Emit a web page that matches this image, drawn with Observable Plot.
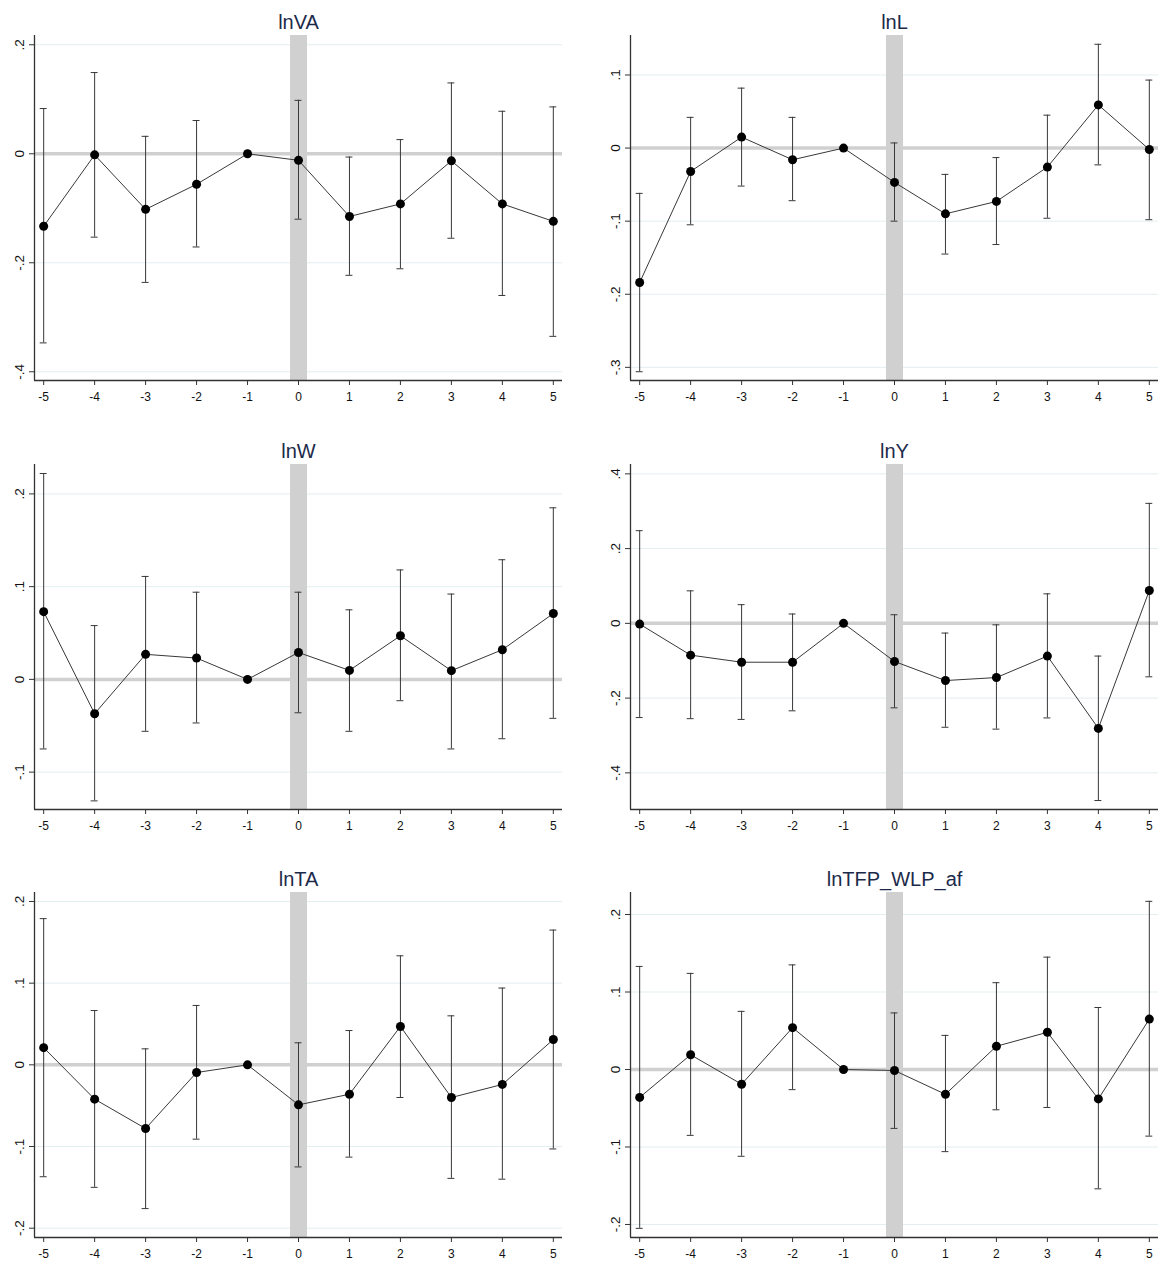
<!DOCTYPE html>
<html>
<head>
<meta charset="utf-8">
<script src="https://cdn.jsdelivr.net/npm/d3@7"></script>
<script src="https://cdn.jsdelivr.net/npm/@observablehq/plot@0.6"></script>
<style>
  body { margin: 0; background: #fff; }
  #wrap { position: relative; width: 1158px; height: 1262px; background: #fff; overflow: hidden; }
  .panel { position: absolute; }
  .panel g[aria-label="y-axis tick label"] { font-size: 13.5px; fill: #111; }
  .panel g[aria-label="x-axis tick label"] { font-size: 12px; fill: #111; }
</style>
</head>
<body>
<div id="wrap"></div>
<script>
// ---- data ----
const periods = [-5, -4, -3, -2, -1, 0, 1, 2, 3, 4, 5];
const eventPeriod = 0;
const titles = ["lnVA", "lnL", "lnW", "lnY", "lnTA", "lnTFP_WLP_af"];

const lnVA_coef = [-0.133, -0.002, -0.102, -0.056, 0, -0.012, -0.115, -0.092, -0.013, -0.092, -0.124];
const lnVA_lo   = [-0.347, -0.153, -0.236, -0.171, null, -0.120, -0.223, -0.211, -0.155, -0.260, -0.335];
const lnVA_hi   = [0.083, 0.149, 0.032, 0.061, null, 0.098, -0.006, 0.026, 0.130, 0.078, 0.086];

const lnL_coef = [-0.184, -0.032, 0.015, -0.016, 0, -0.047, -0.090, -0.073, -0.026, 0.059, -0.002];
const lnL_lo   = [-0.306, -0.105, -0.052, -0.072, null, -0.100, -0.145, -0.132, -0.096, -0.023, -0.098];
const lnL_hi   = [-0.062, 0.042, 0.082, 0.042, null, 0.007, -0.036, -0.013, 0.045, 0.142, 0.093];

const lnW_coef = [0.073, -0.037, 0.027, 0.023, 0, 0.029, 0.0097, 0.047, 0.0094, 0.032, 0.071];
const lnW_lo   = [-0.075, -0.131, -0.056, -0.047, null, -0.036, -0.056, -0.023, -0.075, -0.064, -0.042];
const lnW_hi   = [0.222, 0.058, 0.111, 0.094, null, 0.094, 0.075, 0.118, 0.092, 0.129, 0.185];

const lnY_coef = [-0.002, -0.085, -0.104, -0.104, 0, -0.102, -0.153, -0.145, -0.0875, -0.281, 0.088];
const lnY_lo   = [-0.252, -0.255, -0.257, -0.234, null, -0.226, -0.278, -0.283, -0.253, -0.474, -0.143];
const lnY_hi   = [0.248, 0.087, 0.050, 0.025, null, 0.023, -0.026, -0.004, 0.079, -0.0875, 0.321];

const lnTA_coef = [0.021, -0.042, -0.078, -0.0094, 0, -0.049, -0.036, 0.047, -0.040, -0.024, 0.031];
const lnTA_lo   = [-0.137, -0.150, -0.176, -0.091, null, -0.125, -0.113, -0.040, -0.139, -0.140, -0.103];
const lnTA_hi   = [0.179, 0.0665, 0.0196, 0.0727, null, 0.027, 0.042, 0.1335, 0.060, 0.094, 0.165];

const lnTFP_coef = [-0.036, 0.019, -0.019, 0.054, 0, -0.0013, -0.032, 0.030, 0.048, -0.038, 0.065];
const lnTFP_lo   = [-0.205, -0.085, -0.112, -0.026, null, -0.076, -0.106, -0.052, -0.049, -0.154, -0.086];
const lnTFP_hi   = [0.133, 0.124, 0.075, 0.135, null, 0.073, 0.044, 0.112, 0.145, 0.080, 0.217];

// y tick labels per panel
const lnVA_ticks  = [0.2, 0, -0.2, -0.4];
const lnL_ticks   = [0.1, 0, -0.1, -0.2, -0.3];
const lnW_ticks   = [0.2, 0.1, 0, -0.1];
const lnY_ticks   = [0.4, 0.2, 0, -0.2, -0.4];
const lnTA_ticks  = [0.2, 0.1, 0, -0.1, -0.2];
const lnTFP_ticks = [0.2, 0.1, 0, -0.1, -0.2];

// axis ranges (scale domains)
const xRange = [-5.18, 5.18];
const lnVA_range  = [-0.416, 0.217];
const lnL_range   = [-0.318, 0.154];
const lnW_range   = [-0.1403, 0.2317];
const lnY_range   = [-0.498, 0.425];
const lnTA_range  = [-0.2114, 0.211];
const lnTFP_range = [-0.2168, 0.2284];

// ---- build ----
const panels = [
  {title: titles[0], coef: lnVA_coef,  lo: lnVA_lo,  hi: lnVA_hi,  ticks: lnVA_ticks,  range: lnVA_range},
  {title: titles[1], coef: lnL_coef,   lo: lnL_lo,   hi: lnL_hi,   ticks: lnL_ticks,   range: lnL_range},
  {title: titles[2], coef: lnW_coef,   lo: lnW_lo,   hi: lnW_hi,   ticks: lnW_ticks,   range: lnW_range},
  {title: titles[3], coef: lnY_coef,   lo: lnY_lo,   hi: lnY_hi,   ticks: lnY_ticks,   range: lnY_range},
  {title: titles[4], coef: lnTA_coef,  lo: lnTA_lo,  hi: lnTA_hi,  ticks: lnTA_ticks,  range: lnTA_range},
  {title: titles[5], coef: lnTFP_coef, lo: lnTFP_lo, hi: lnTFP_hi, ticks: lnTFP_ticks, range: lnTFP_range}
];

const rowTops = [0, 429, 857];
const colLefts = [0, 596];
const colWidths = [570, 562];
const colMarginRight = [8, 0];

const fmt = d => d === 0 ? "0" : String(d).replace("0.", ".");
const capHalf = 0.068;
const lineColor = "#383838";
const bandColor = "#d0d0d0";
const font = "'Liberation Sans', Arial, Helvetica, sans-serif";

const wrap = document.getElementById("wrap");

panels.forEach((p, i) => {
  const row = Math.floor(i / 2), col = i % 2;
  const rows = periods.map((t, j) => ({period: t, coef: p.coef[j], lo: p.lo[j], hi: p.hi[j]}));
  const ci = rows.filter(d => d.lo != null && d.hi != null);

  const chart = Plot.plot({
    width: colWidths[col],
    height: 410,
    marginLeft: 34,
    marginRight: colMarginRight[col],
    marginTop: 35,
    marginBottom: 30,
    style: {fontFamily: font, background: "transparent", color: "#111"},
    x: {domain: xRange},
    y: {domain: p.range},
    marks: [
      Plot.gridY(p.ticks, {stroke: "#e3eef0", strokeOpacity: 1, strokeWidth: 1}),
      Plot.ruleX([eventPeriod], {stroke: bandColor, strokeWidth: 17}),
      Plot.ruleY([0], {stroke: bandColor, strokeWidth: 3.5}),
      Plot.ruleX(ci, {x: "period", y1: "lo", y2: "hi", stroke: lineColor, strokeWidth: 1}),
      Plot.ruleY(ci, {y: "lo", x1: d => d.period - capHalf, x2: d => d.period + capHalf, stroke: lineColor, strokeWidth: 1}),
      Plot.ruleY(ci, {y: "hi", x1: d => d.period - capHalf, x2: d => d.period + capHalf, stroke: lineColor, strokeWidth: 1}),
      Plot.line(rows, {x: "period", y: "coef", stroke: lineColor, strokeWidth: 1}),
      Plot.dot(rows, {x: "period", y: "coef", r: 4.5, fill: "#000", stroke: "none"}),
      Plot.ruleX([xRange[0]], {stroke: "#333", strokeWidth: 1.3}),
      Plot.ruleY([p.range[0]], {stroke: "#333", strokeWidth: 1.3}),
      Plot.axisX({ticks: periods, tickSize: 5, tickPadding: 7, tickFormat: d => String(d), label: null, fontSize: 12, stroke: "#333"}),
      Plot.axisY({ticks: p.ticks, tickSize: 5, tickPadding: 6, tickRotate: -90, tickFormat: fmt, label: null, fontSize: 13.5, stroke: "#333"}),
      Plot.text([p.title], {text: d => d, frameAnchor: "top", lineAnchor: "middle", dy: -13, fontSize: 20, fill: "#1c2a4a"})
    ]
  });
  chart.classList.add("panel");
  chart.style.left = colLefts[col] + "px";
  chart.style.top = rowTops[row] + "px";
  wrap.appendChild(chart);
});
</script>
</body>
</html>
